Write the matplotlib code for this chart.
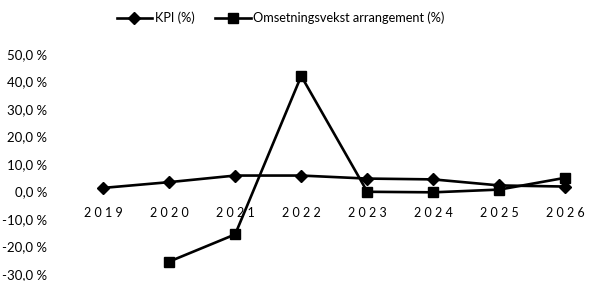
import numpy as np
import matplotlib
matplotlib.use("Agg")
import matplotlib.pyplot as plt
from matplotlib.ticker import FuncFormatter

# data
years = ["2019", "2020", "2021", "2022", "2023", "2024", "2025", "2026"]
kpi = [1.3, 3.4, 5.8, 5.8, 4.7, 4.4, 2.2, 1.8]
omsetning = [np.nan, -25.5, -15.6, 42.0, -0.1, -0.3, 0.7, 5.0]

plt.rcParams['font.family'] = ['Lato', 'DejaVu Sans']

fig = plt.figure(figsize=(5.91, 2.81), dpi=100)
ax = fig.add_axes([76.6 / 591, 7 / 281, 512 / 591, 220 / 281])

x = np.arange(len(years))
ax.plot(x, kpi, color="black", lw=1.9, marker="D", ms=6.5, label="KPI (%)")
ax.plot(x, omsetning, color="black", lw=1.9, marker="s", ms=7,
        label="Omsetningsvekst arrangement (%)")

ax.set_xlim(-0.4, 7.35)
ax.set_ylim(-30, 50)
ax.set_yticks(np.arange(-30, 51, 10))
ax.yaxis.set_major_formatter(FuncFormatter(lambda v, p: f"{v:.1f}".replace(".", ",") + " %"))

# x-etiketter ved nullinjen
ax.spines['bottom'].set_position(('data', 0))
for s in ['top', 'right', 'left', 'bottom']:
    ax.spines[s].set_color('none')
ax.set_xticks(x)
ax.set_xticklabels([" ".join(y) for y in years], fontsize=9)
ax.tick_params(axis='x', length=0, pad=11)
ax.tick_params(axis='y', length=0, pad=21, labelsize=9.5)
ax.patch.set_alpha(0)

fig.legend(loc="upper center", bbox_to_anchor=(0.475, 1.0), ncol=2, frameon=False,
           fontsize=9.2, handlelength=2.8, columnspacing=1.6, handletextpad=0.2)

fig.savefig("out.png", dpi=100)
